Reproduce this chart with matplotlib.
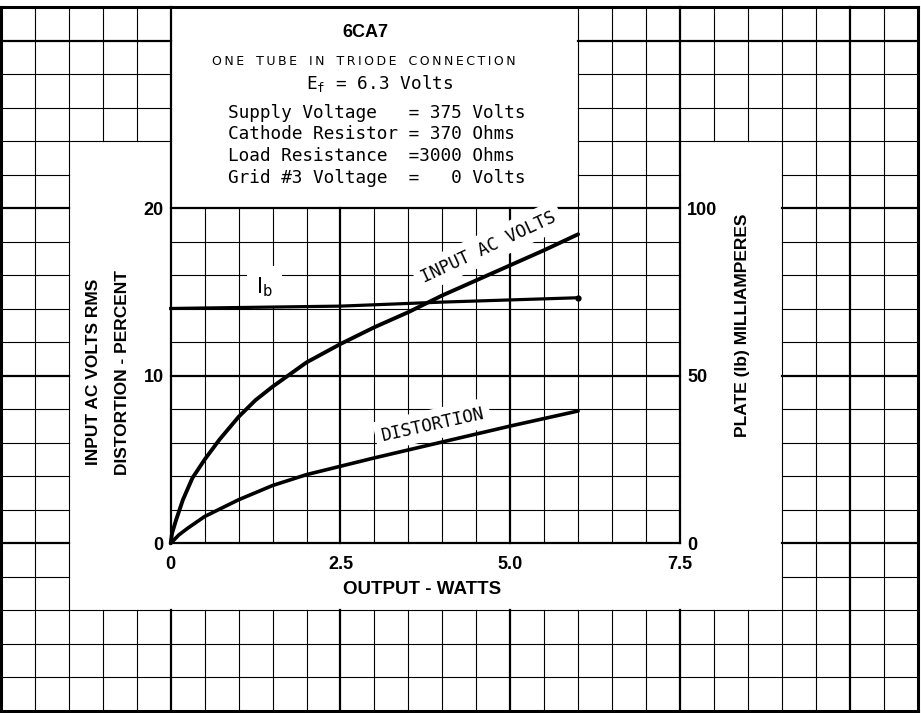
import numpy as np
import matplotlib.pyplot as plt
from matplotlib.collections import LineCollection

# curves (output watts -> value)
watts_input = [0, 0.02, 0.08, 0.18, 0.32, 0.5, 0.72, 1.0, 1.25, 1.5, 2.0, 2.5, 3.0, 3.5,
               4.0, 4.5, 5.0, 5.5, 6.0]
input_ac_volts = [0, 0.6, 1.4, 2.6, 3.9, 5.0, 6.2, 7.55, 8.55, 9.35, 10.8, 11.9, 12.9, 13.8,
                  14.8, 15.7, 16.6, 17.5, 18.45]

watts_dist = [0, 0.12, 0.25, 0.5, 1.0, 1.5, 2.0, 2.5, 3.0, 4.0, 5.0, 6.0]
distortion_pct = [0, 0.5, 0.9, 1.6, 2.6, 3.45, 4.1, 4.6, 5.1, 6.05, 7.0, 7.9]

watts_ib = [0, 2.5, 4.0, 6.0]
plate_ma = [70.1, 70.8, 72.0, 73.3]

left_ticks = [0, 10, 20]
bottom_ticks = [0, 2.5, 5.0, 7.5]
bottom_labels = ['0', '2.5', '5.0', '7.5']
right_ticks = [0, 50, 100]

conditions = ['Supply Voltage   = 375 Volts',
              'Cathode Resistor = 370 Ohms',
              'Load Resistance  =3000 Ohms',
              'Grid #3 Voltage  =   0 Volts']

BOLD = 'Liberation Sans'
MONO = 'DejaVu Sans Mono'

fig = plt.figure(figsize=(9.21, 7.13), dpi=100)
ax = fig.add_axes([170.7 / 921, (713 - 543.3) / 713, 509.3 / 921, 335 / 713])
ax.set_xlim(0, 7.5)
ax.set_ylim(0, 20)
ax2 = ax.twinx()
ax2.set_ylim(0, 100)
for a in (ax, ax2):
    for s in a.spines.values():
        s.set_visible(False)
    a.tick_params(length=0)

# ---- graph paper, with the white areas left blank ----
xs = np.arange(-2.5, 11.01, 0.5)
ys = np.arange(-10, 32.01, 2)
masks = [(-1.5, 0, -4, 24), (0, 9, -4, 0), (7.5, 9, 0, 24), (0, 6, 20, 32)]
e = 1e-3

def white(x, y):
    return any(x0 < x < x1 and y0 < y < y1 for x0, x1, y0, y1 in masks)

def width(v, step, border):
    if np.isclose(v, border[0]) or np.isclose(v, border[1]):
        return 2.2
    if np.isclose(v / step, round(v / step)):
        return 1.6
    return 0.8

segs, lws = [], []
for x in xs:
    run = None
    for ya, yb in zip(ys[:-1], ys[1:]):
        ym = (ya + yb) / 2
        hide = white(x - e, ym) and white(x + e, ym)
        if (np.isclose(x, 0) or np.isclose(x, 6)) and 20 <= ym <= 32:
            hide = False
        if not hide:
            run = [run[0], yb] if run else [ya, yb]
        elif run:
            segs.append([(x, run[0]), (x, run[1])]); lws.append(width(x, 2.5, (-2.5, 11)))
            run = None
    if run:
        segs.append([(x, run[0]), (x, run[1])]); lws.append(width(x, 2.5, (-2.5, 11)))
for y in ys:
    run = None
    for xa, xb in zip(xs[:-1], xs[1:]):
        xm = (xa + xb) / 2
        hide = white(xm, y - e) and white(xm, y + e)
        if (np.isclose(y, 20) or np.isclose(y, 32)) and 0 <= xm <= 6:
            hide = False
        if not hide:
            run = [run[0], xb] if run else [xa, xb]
        elif run:
            segs.append([(run[0], y), (run[1], y)]); lws.append(width(y, 10, (-10, 32)))
            run = None
    if run:
        segs.append([(run[0], y), (run[1], y)]); lws.append(width(y, 10, (-10, 32)))

grid = LineCollection(segs, linewidths=lws, colors='black', zorder=1,
                      transform=ax.transData, clip_on=False, capstyle='projecting')
ax.add_collection(grid)

# ---- curves ----
ax.plot(watts_input, input_ac_volts, color='black', lw=2.8, zorder=3, clip_on=False,
        solid_capstyle='round', solid_joinstyle='round')
ax.plot(watts_dist, distortion_pct, color='black', lw=2.6, zorder=3, clip_on=False,
        solid_capstyle='round', solid_joinstyle='round')
ax2.plot(watts_ib, plate_ma, color='black', lw=2.3, zorder=3, clip_on=False,
         marker='o', markevery=[len(watts_ib) - 1], ms=3.5)

wbox = dict(boxstyle='square,pad=0.35', fc='white', ec='none')
ax.text(4.673, 17.69, 'INPUT AC VOLTS', family=MONO, fontsize=12.5, rotation=25,
        rotation_mode='anchor', ha='center', va='center', bbox=wbox, zorder=4)
ax.text(3.857, 7.09, 'DISTORTION', family=MONO, fontsize=12.5, rotation=12.5,
        rotation_mode='anchor', ha='center', va='center', bbox=wbox, zorder=4)
ax.text(1.256, 14.94, r'I$_\mathregular{b}$', family='DejaVu Sans', fontsize=15,
        ha='left', va='baseline', zorder=4,
        bbox=dict(boxstyle='square,pad=0.45', fc='white', ec='none'))

# ---- title block ----
ax.text(2.86, 30.25, '6CA7', family=BOLD, weight='bold', fontsize=13,
        ha='center', va='baseline')
spaced = '   '.join('\u2009'.join(w) for w in 'ONE TUBE IN TRIODE CONNECTION'.split())
ax.text(2.847, 28.56, spaced, family='DejaVu Sans', fontsize=9, ha='center', va='baseline')
ax.text(3.07, 27.10, r'E$_\mathregular{f}$ = 6.3 Volts', family=MONO, fontsize=12.8,
        ha='center', va='baseline')
for txt, yb in zip(conditions, [25.37, 24.12, 22.82, 21.52]):
    ax.text(0.847, yb, txt, family=MONO, fontsize=12.8, ha='left', va='baseline')

# ---- ticks and axis titles ----
ax.set_yticks(left_ticks)
ax.set_yticklabels([str(t) for t in left_ticks], family=BOLD, weight='bold', fontsize=13)
ax.set_xticks(bottom_ticks)
ax.set_xticklabels(bottom_labels, family=BOLD, weight='bold', fontsize=13)
ax2.set_yticks(right_ticks)
ax2.set_yticklabels([str(t) for t in right_ticks], family=BOLD, weight='bold', fontsize=13)
ax.tick_params(axis='y', pad=5)
ax.tick_params(axis='x', pad=9)
ax2.tick_params(axis='y', pad=5)

ax.text(0.4934, -0.1394, 'OUTPUT - WATTS', transform=ax.transAxes, family=BOLD,
        weight='bold', fontsize=13.5, ha='center', va='center')
ax.text(-0.1506, 0.5113, 'INPUT AC VOLTS RMS', transform=ax.transAxes, family=BOLD,
        weight='bold', fontsize=12.5, rotation=90, ha='center', va='center')
ax.text(-0.0937, 0.5113, 'DISTORTION - PERCENT', transform=ax.transAxes, family=BOLD,
        weight='bold', fontsize=12.5, rotation=90, ha='center', va='center')
ax.text(1.1227, 0.650, 'PLATE (Ib) MILLIAMPERES', transform=ax.transAxes, family=BOLD,
        weight='bold', fontsize=12.5, rotation=90, ha='center', va='center')

fig.savefig('out.png', dpi=100, facecolor='white')
